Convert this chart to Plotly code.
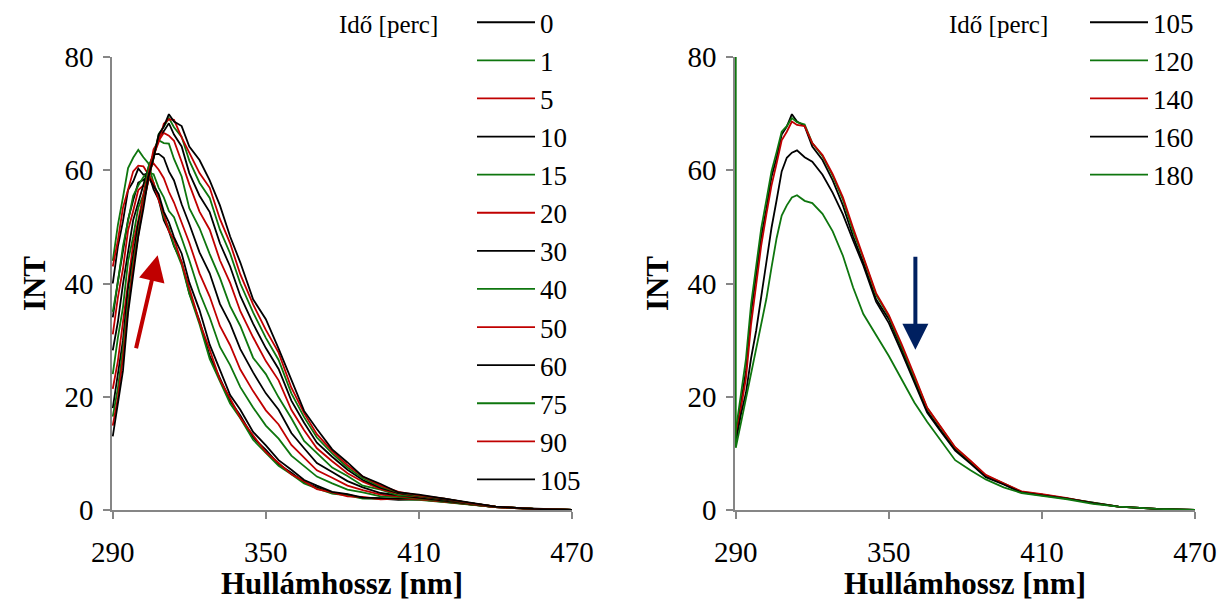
import plotly.graph_objects as go

# Wavelength grid (nm)
WL = [290, 292, 294, 296, 298, 300, 302, 304, 306, 308,
      310, 312, 314, 317, 320, 324, 328, 332, 336, 340,
      345, 350, 355, 360, 365, 370, 376, 382, 388, 395,
      402, 410, 420, 430, 440, 455, 470]

# Emission intensities, first series set (time in minutes)
int_0 = [40, 46.5, 51, 56.5, 58, 60.3, 59.2, 59.5, 56.6, 54.8,
         51.2, 49.3, 46.6, 43.8, 38.3, 33.4, 27.2, 23.3, 19.3, 16.7,
         12.8, 10.6, 8.1, 6.6, 4.9, 4.0, 3.0, 2.7, 2.1, 2.0,
         1.8, 1.9, 1.5, 1.0, 0.5, 0.2, 0.0]
int_1 = [44, 50.3, 55.2, 60.4, 62.2, 63.6, 62.3, 61.2, 57.7, 55.3,
         51.7, 49.8, 46.7, 43.3, 38.2, 32.8, 26.7, 22.7, 18.8, 16.2,
         12.4, 10.1, 7.8, 6.3, 4.7, 3.8, 2.9, 2.6, 2.0, 2.0,
         1.9, 1.8, 1.4, 0.9, 0.5, 0.2, 0.0]
int_5 = [43, 47.6, 53.4, 56.7, 59.8, 60.8, 60.7, 59.2, 57.8, 54.7,
         52.3, 49.2, 47.8, 43.7, 39.3, 33.2, 28.3, 23.0, 19.7, 16.3,
         13.2, 10.2, 8.3, 6.3, 5.1, 3.7, 3.1, 2.4, 2.3, 1.9,
         2.0, 1.9, 1.5, 1.0, 0.5, 0.2, 0.0]
int_10 = [34, 40.4, 45.7, 51.3, 54.7, 57.8, 58.3, 58.8, 57.2, 55.8,
          52.7, 50.8, 48.2, 45.3, 40.2, 35.3, 29.2, 24.8, 20.3, 17.7,
          13.8, 11.4, 8.8, 7.1, 5.3, 4.3, 3.2, 2.8, 2.2, 2.1,
          2.0, 2.1, 1.6, 1.0, 0.5, 0.2, 0.0]
int_15 = [35, 40.2, 46.6, 51.4, 55.5, 57.3, 58.8, 59.6, 59.3, 56.9,
          55.2, 52.8, 51.7, 48.0, 44.1, 38.4, 34.0, 28.8, 25.6, 21.7,
          18.1, 14.9, 12.6, 9.6, 7.7, 5.9, 4.7, 3.6, 3.1, 2.4,
          2.3, 2.0, 1.6, 1.0, 0.5, 0.2, 0.0]
int_20 = [31.0, 37.5, 42.6, 49.4, 52.8, 56.5, 57.3, 60.1, 61.2, 60.1,
          58.6, 56.2, 54.3, 50.9, 47.2, 41.8, 37.7, 32.5, 29.1, 24.8,
          21.0, 17.6, 15.1, 11.5, 9.3, 7.0, 5.7, 4.3, 3.5, 2.7,
          2.4, 2.1, 1.7, 1.1, 0.5, 0.2, 0.0]
int_30 = [28.2, 33.2, 39.9, 45.8, 51.2, 54.3, 57.2, 60.5, 62.8, 62.9,
          62.2, 59.8, 58.2, 54.0, 50.5, 45.5, 41.8, 36.4, 32.9, 28.4,
          24.3, 20.6, 17.7, 13.6, 10.9, 8.3, 6.7, 5.1, 4.0, 3.0,
          2.6, 2.2, 1.7, 1.1, 0.6, 0.2, 0.0]
int_40 = [24.0, 30.4, 35.8, 43.9, 48.3, 53.4, 55.7, 60.6, 62.8, 65.3,
          64.8, 64.7, 62.0, 58.9, 53.3, 49.8, 45.2, 41.0, 36.0, 32.5,
          26.9, 24.0, 19.9, 16.2, 12.2, 10.0, 7.5, 6.0, 4.3, 3.6,
          2.6, 2.4, 1.8, 1.1, 0.6, 0.2, 0.0]
int_50 = [21.4, 26.3, 33.2, 40.6, 47.0, 51.2, 55.7, 59.3, 63.7, 65.2,
          66.6, 66.1, 65.2, 61.5, 57.5, 52.7, 49.5, 44.1, 40.1, 35.1,
          30.5, 26.3, 22.9, 17.7, 14.1, 10.9, 8.6, 6.5, 5.0, 3.7,
          2.9, 2.4, 1.9, 1.2, 0.6, 0.2, 0.0]
int_60 = [18.0, 24.3, 30.0, 39.2, 44.6, 50.7, 54.4, 58.9, 62.1, 66.0,
          66.9, 68.3, 66.3, 64.2, 59.5, 55.5, 52.6, 47.1, 43.0, 37.8,
          32.9, 28.6, 24.9, 19.3, 15.4, 11.9, 9.4, 7.1, 5.3, 3.9,
          3.0, 2.5, 1.9, 1.2, 0.6, 0.2, 0.0]
int_75 = [16.5, 21.5, 28.5, 36.8, 43.8, 49.1, 54.5, 58.3, 62.2, 66.4,
          67.7, 69.2, 67.6, 65.9, 61.7, 57.8, 55.1, 49.5, 45.3, 40.0,
          34.9, 30.4, 26.5, 20.6, 16.4, 12.8, 10.0, 7.5, 5.6, 4.1,
          3.1, 2.5, 2.0, 1.2, 0.6, 0.2, 0.0]
int_90 = [14.9, 19.8, 26.9, 35.5, 42.8, 48.4, 54.2, 58.2, 62.6, 65.0,
          68.2, 69.0, 68.9, 65.8, 63.2, 59.5, 56.9, 51.4, 47.1, 41.6,
          36.3, 31.8, 27.8, 21.6, 17.1, 13.4, 10.4, 7.9, 5.9, 4.3,
          3.2, 2.6, 2.0, 1.2, 0.6, 0.2, 0.0]
int_105 = [13.0, 18.8, 24.6, 34.8, 41.2, 48.3, 53.2, 58.8, 62.2, 66.3,
           67.7, 69.9, 68.6, 67.8, 64.2, 61.8, 58.2, 53.8, 48.3, 43.7,
           37.2, 33.7, 28.5, 23.0, 17.5, 14.3, 10.7, 8.4, 5.9, 4.6,
           3.1, 2.7, 2.0, 1.2, 0.6, 0.2, 0.0]

# Second series set
int_120 = [14.0, 20.3, 26.7, 36.3, 42.7, 49.8, 54.7, 59.8, 63.2, 66.8,
           67.8, 69.2, 68.5, 68.1, 64.8, 62.5, 59.0, 54.8, 49.2, 44.5,
           38.0, 34.2, 28.9, 23.5, 18.0, 14.8, 11.0, 8.6, 6.1, 4.7,
           3.2, 2.7, 2.0, 1.2, 0.6, 0.2, 0.0]
int_140 = [12.5, 17.7, 23.3, 32.8, 39.7, 46.8, 52.2, 57.3, 61.2, 65.3,
           66.8, 68.6, 68.0, 67.8, 64.8, 62.7, 59.3, 55.2, 49.8, 44.8,
           38.3, 34.4, 29.3, 23.8, 18.1, 14.9, 11.1, 8.7, 6.2, 4.7,
           3.3, 2.8, 2.1, 1.2, 0.6, 0.2, 0.0]
int_160 = [12.0, 16.8, 20.7, 26.8, 31.7, 37.8, 43.2, 49.8, 54.7, 59.8,
           62.2, 63.1, 63.5, 62.3, 61.5, 59.2, 56.0, 52.2, 47.6, 43.2,
           36.8, 33.0, 27.9, 22.4, 17.2, 14.1, 10.5, 8.2, 5.8, 4.5,
           3.1, 2.6, 2.0, 1.2, 0.6, 0.2, 0.0]
# the 180 min record begins with an off-scale first reading at 290 nm
WL_180 = [290] + WL
int_180 = [80.0,
           11.0, 15.3, 19.8, 24.2, 28.6, 33.2, 37.3, 42.8, 48.0, 52.0,
           53.8, 55.2, 55.6, 54.6, 54.2, 52.3, 49.2, 44.9, 39.3, 34.6,
           30.9, 27.2, 23.1, 19.0, 15.6, 12.5, 8.8, 7.0, 5.4, 4.0,
           3.0, 2.5, 1.9, 1.1, 0.6, 0.2, 0.0]

labels_left = ["0", "1", "5", "10", "15", "20", "30", "40", "50", "60", "75", "90", "105"]
series_left = [int_0, int_1, int_5, int_10, int_15, int_20, int_30, int_40,
               int_50, int_60, int_75, int_90, int_105]
labels_right = ["105", "120", "140", "160", "180"]
series_right = [(WL, int_105), (WL, int_120), (WL, int_140), (WL, int_160), (WL_180, int_180)]

BLACK, GREEN, RED = "#000000", "#0E760E", "#C00000"
cycle = [BLACK, GREEN, RED]
FONT = "Liberation Serif, Times New Roman, serif"
AXIS_GRAY = "#868686"
LEGEND_TITLE = "Idő [perc]"

fig = go.Figure()

for i, (lab, ys) in enumerate(zip(labels_left, series_left)):
    fig.add_trace(go.Scatter(x=WL, y=ys, mode="lines", name=lab,
                             line=dict(color=cycle[i % 3], width=1.8),
                             xaxis="x", yaxis="y", legend="legend"))

for i, (lab, (xs, ys)) in enumerate(zip(labels_right, series_right)):
    fig.add_trace(go.Scatter(x=xs, y=ys, mode="lines", name=lab,
                             line=dict(color=cycle[i % 3], width=1.8),
                             xaxis="x2", yaxis="y2", legend="legend2"))

W, H = 1219, 601
xd1 = [112 / W, 572 / W]
xd2 = [735 / W, 1195 / W]
yd = [(H - 510) / H, (H - 57) / H]

def xaxis_cfg(domain, anchor):
    return dict(domain=domain, anchor=anchor, range=[289.7, 470], automargin=False,
                tickvals=[290, 350, 410, 470], showgrid=False, zeroline=False,
                showline=True, linecolor=AXIS_GRAY, linewidth=1.5,
                ticks="outside", ticklen=7, tickcolor=AXIS_GRAY, tickwidth=1.5,
                ticklabelstandoff=8,
                tickfont=dict(family=FONT, size=29, color="#000"),
                title=dict(text="<b>Hullámhossz [nm]</b>", standoff=0,
                           font=dict(family=FONT, size=31, color="#000")))

def yaxis_cfg(anchor):
    return dict(domain=yd, anchor=anchor, range=[0, 80], automargin=False,
                tickvals=[0, 20, 40, 60, 80],
                showgrid=False, zeroline=False, showline=True, linecolor=AXIS_GRAY,
                linewidth=1.5, ticks="outside", ticklen=7, tickcolor=AXIS_GRAY, tickwidth=1.5,
                ticklabelstandoff=4, layer="below traces",
                tickfont=dict(family=FONT, size=29, color="#000"),
                title=dict(text="<b>INT</b>", standoff=10,
                           font=dict(family=FONT, size=31, color="#000")))

legend_common = dict(bgcolor="rgba(0,0,0,0)", borderwidth=0, yanchor="top",
                     xanchor="left", itemwidth=58, tracegroupgap=0, maxheight=600,
                     font=dict(family=FONT, size=27, color="#000"))

fig.update_layout(
    width=W, height=H,
    margin=dict(l=0, r=0, t=0, b=0, autoexpand=False),
    font=dict(family=FONT, color="#000"),
    paper_bgcolor="white", plot_bgcolor="white",
    xaxis=xaxis_cfg(xd1, "y"), yaxis=yaxis_cfg("x"),
    xaxis2=xaxis_cfg(xd2, "y2"), yaxis2=yaxis_cfg("x2"),
    legend=dict(x=472 / W, y=1.003, **legend_common),
    legend2=dict(x=1085 / W, y=1.003, **legend_common),
    annotations=[
        dict(x=440 / W, y=1 - 25 / H, xref="paper", yref="paper", xanchor="right",
             yanchor="middle", text=LEGEND_TITLE, showarrow=False,
             font=dict(family=FONT, size=25, color="#000")),
        dict(x=1050 / W, y=1 - 25 / H, xref="paper", yref="paper", xanchor="right",
             yanchor="middle", text=LEGEND_TITLE, showarrow=False,
             font=dict(family=FONT, size=25, color="#000")),
        dict(x=307.6, y=45, ax=299, ay=28.3, xref="x", yref="y", axref="x", ayref="y",
             text="", showarrow=True, arrowhead=2, arrowsize=1.3, arrowwidth=4,
             arrowcolor=RED),
        dict(x=360.4, y=28.3, ax=360.4, ay=45, xref="x2", yref="y2", axref="x2", ayref="y2",
             text="", showarrow=True, arrowhead=2, arrowsize=1.3, arrowwidth=4,
             arrowcolor="#002060"),
    ],
    showlegend=True,
)

fig.write_html("out.html")
